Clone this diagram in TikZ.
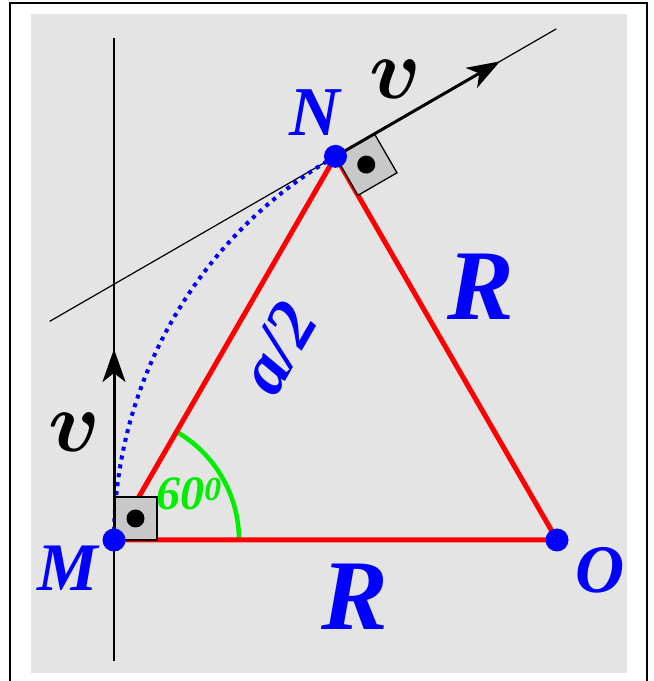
\documentclass[tikz,border=0pt]{standalone}
\usepackage{amsmath}
\usepackage{fontspec}
\setmainfont{Liberation Serif}
\usetikzlibrary{arrows.meta,calc}
\definecolor{PanelGray}{HTML}{E4E4E4}
\definecolor{BoxGray}  {HTML}{C8C8C8}
\definecolor{SideRed}  {HTML}{FF0000}
\definecolor{PtBlue}   {HTML}{0000FF}
\definecolor{AngGreen} {HTML}{00EE00}

\begin{document}
\begin{tikzpicture}[x=1pt,y=1pt,
  pt/.style={circle,fill=PtBlue,inner sep=0pt,minimum size=23pt},
  lbl/.style={font=\bfseries\itshape\fontsize{#1}{#1}\selectfont,inner sep=0pt},
  vlbl/.style={scale=8.6,inner sep=0pt},
  side/.style={SideRed,line width=5pt,line join=round},
  vel/.style={-{Stealth[length=33pt,width=23pt,inset=9pt]},line width=3pt},
  rbox/.style={fill=BoxGray,draw=black,line width=1.3pt}]
  \useasboundingbox (0,0) rectangle (654,681);
  % Frame and panel
  \fill[PanelGray] (31,8) rectangle (627,667);
  \draw[line width=2pt] (10,-10) rectangle (647,678);
  % Vertices
  \coordinate (M) at (114,141);
  \coordinate (O) at ($(M)+(443,0)$);
  \coordinate (N) at ($(M)+(60:443)$);
  % Vertical line through M
  \coordinate (vbot) at (114,20);
  \coordinate (vtop) at (114,643);
  \draw[line width=1.2pt] (vbot) -- (vtop);
  % Tangent at N
  \coordinate (tA) at ($(N)+(210:330)$);
  \coordinate (tB) at ($(N)+(30:255)$);
  \draw[line width=1.2pt] (tA) -- (tB);
  % Trajectory arc
  \draw[PtBlue,line width=4pt,dash pattern=on 4pt off 5pt]
    (M) arc[start angle=180,end angle=120,radius=443];
  % Angle at M
  \draw[AngGreen,line width=4.5pt]
    ($(M)+(125,0)$) arc[start angle=0,end angle=60,radius=125];
  % Triangle
  \draw[side] (M) -- (O) -- (N) -- cycle;
  % Right angles
  \draw[rbox] (M) rectangle ++(43,43);
  \fill ($(M)+(21.5,21.5)$) circle[radius=9pt];
  \begin{scope}[shift={(N)},rotate=-60]
    \draw[rbox] (0,0) rectangle (45,45);
    \fill (22.5,22.5) circle[radius=9pt];
  \end{scope}
  % Velocities
  \coordinate (vN) at ($(N)+(30:190)$);
  \coordinate (vM) at ($(M)+(0,191)$);
  \draw[vel] (N) -- (vN);
  \draw[vel] (M) -- (vM);
  % Points
  \node[pt] (dM) at (M) {};
  \node[pt] (dN) at (N) {};
  \node[pt] (dO) at (O) {};
  % Labels
  \node[lbl=70,PtBlue] (lN) at (315,568) {N};
  \node[lbl=68,PtBlue] (lM) at (68,113) {M};
  \node[lbl=68,PtBlue] (lO) at (600,111) {O};
  \node[lbl=100,PtBlue] (lRb) at (355,84) {R};
  \node[lbl=100,PtBlue] (lRs) at (481,394) {R};
  \node[lbl=70,PtBlue,rotate=60] (lhalf) at (278,333) {a/2};
  \node[vlbl] (lvN) at (395,602) {$\boldsymbol{v}$};
  \node[vlbl] (lvM) at (74,249) {$\boldsymbol{v}$};
  \node[lbl=48,AngGreen] (lang) at (189,187) {60\textsuperscript{0}};
\end{tikzpicture}
\end{document}
